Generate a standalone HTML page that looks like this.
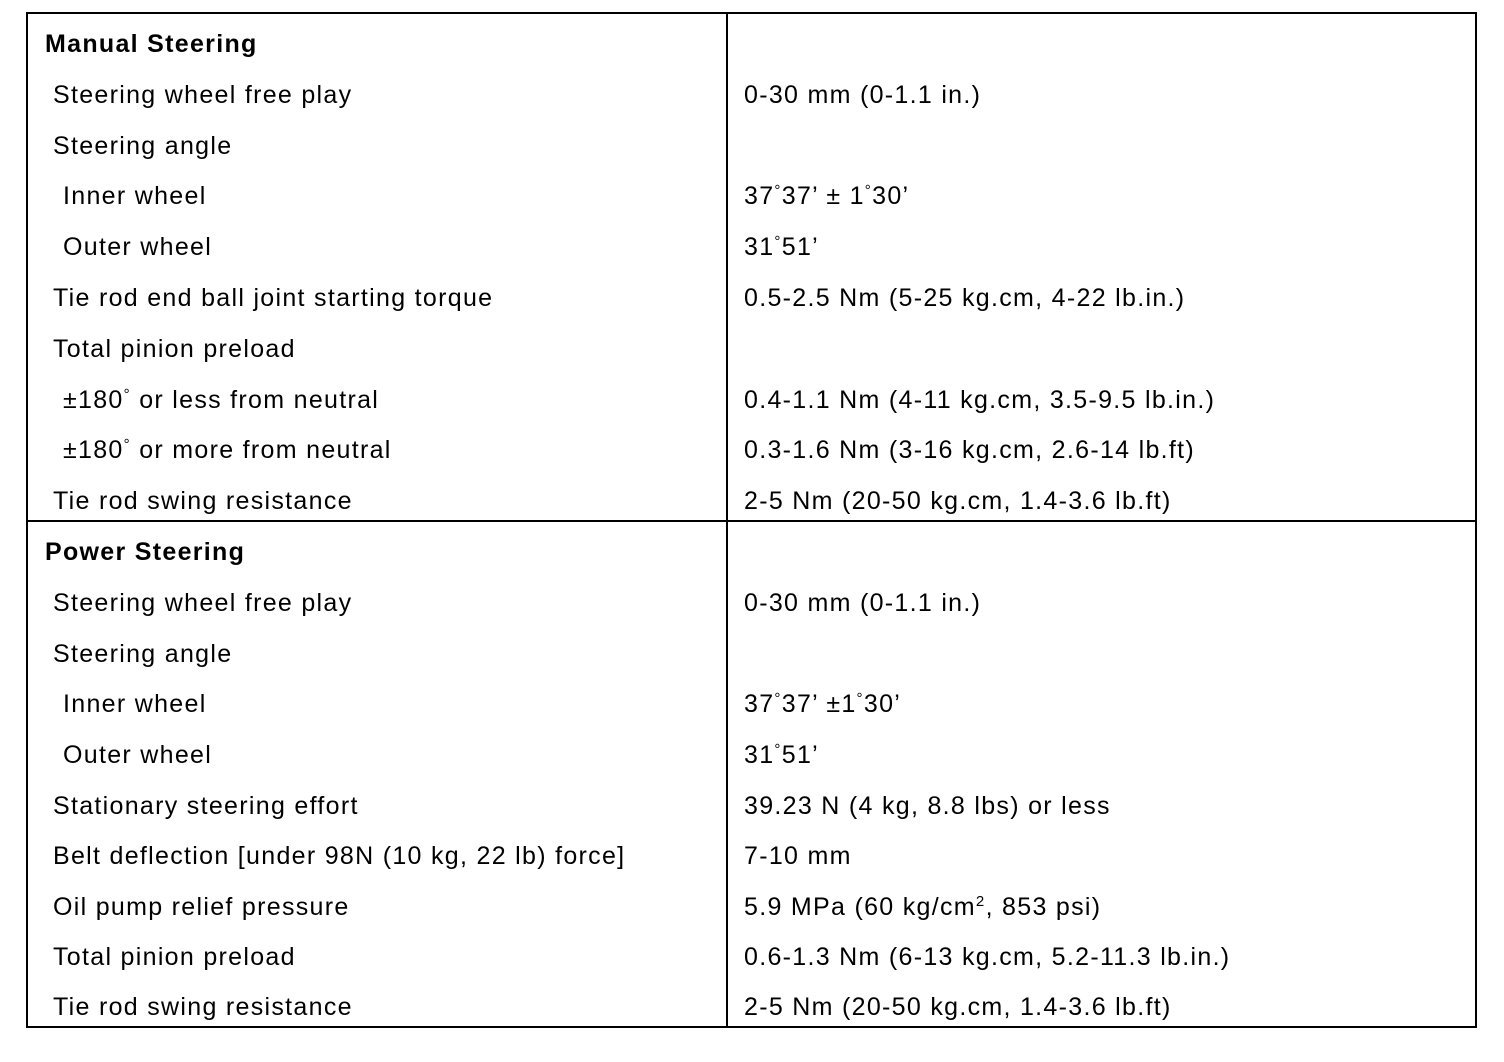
<!DOCTYPE html>
<html><head><meta charset="utf-8"><style>
body{margin:0;width:1504px;height:1062px;background:#fff;position:relative;font-family:"Liberation Sans",Arial,sans-serif;color:#000;overflow:hidden}
.b{position:absolute;background:#000}
.t{position:absolute;font-size:25px;line-height:30px;white-space:nowrap;letter-spacing:1.3px;margin-top:2px}
.h{font-weight:bold}
sup{font-size:15px;line-height:0;vertical-align:9px}
</style></head><body>
<div class="b" style="left:26px;top:12px;width:1451px;height:2px"></div>
<div class="b" style="left:26px;top:1026px;width:1451px;height:2px"></div>
<div class="b" style="left:26px;top:12px;width:2px;height:1016px"></div>
<div class="b" style="left:1475px;top:12px;width:2px;height:1016px"></div>
<div class="b" style="left:726px;top:12px;width:2px;height:1016px"></div>
<div class="b" style="left:26px;top:520px;width:1451px;height:2px"></div>

<div class="t h" style="left:45px;top:27px">Manual Steering</div>
<div class="t" style="left:53px;top:78px">Steering wheel free play</div><div class="t" style="left:744px;top:78px">0-30 mm (0-1.1 in.)</div>
<div class="t" style="left:53px;top:129px">Steering angle</div>
<div class="t" style="left:63px;top:179px">Inner wheel</div><div class="t" style="left:744px;top:179px">37<sup>°</sup>37’ ± 1<sup>°</sup>30’</div>
<div class="t" style="left:63px;top:230px">Outer wheel</div><div class="t" style="left:744px;top:230px">31<sup>°</sup>51’</div>
<div class="t" style="left:53px;top:281px">Tie rod end ball joint starting torque</div><div class="t" style="left:744px;top:281px">0.5-2.5 Nm (5-25 kg.cm, 4-22 lb.in.)</div>
<div class="t" style="left:53px;top:332px">Total pinion preload</div>
<div class="t" style="left:63px;top:383px">±180<sup>°</sup> or less from neutral</div><div class="t" style="left:744px;top:383px">0.4-1.1 Nm (4-11 kg.cm, 3.5-9.5 lb.in.)</div>
<div class="t" style="left:63px;top:433px">±180<sup>°</sup> or more from neutral</div><div class="t" style="left:744px;top:433px">0.3-1.6 Nm (3-16 kg.cm, 2.6-14 lb.ft)</div>
<div class="t" style="left:53px;top:484px">Tie rod swing resistance</div><div class="t" style="left:744px;top:484px">2-5 Nm (20-50 kg.cm, 1.4-3.6 lb.ft)</div>

<div class="t h" style="left:45px;top:535px">Power Steering</div>
<div class="t" style="left:53px;top:586px">Steering wheel free play</div><div class="t" style="left:744px;top:586px">0-30 mm (0-1.1 in.)</div>
<div class="t" style="left:53px;top:637px">Steering angle</div>
<div class="t" style="left:63px;top:687px">Inner wheel</div><div class="t" style="left:744px;top:687px">37<sup>°</sup>37’ ±1<sup>°</sup>30’</div>
<div class="t" style="left:63px;top:738px">Outer wheel</div><div class="t" style="left:744px;top:738px">31<sup>°</sup>51’</div>
<div class="t" style="left:53px;top:789px">Stationary steering effort</div><div class="t" style="left:744px;top:789px">39.23 N (4 kg, 8.8 lbs) or less</div>
<div class="t" style="left:53px;top:839px">Belt deflection [under 98N (10 kg, 22 lb) force]</div><div class="t" style="left:744px;top:839px">7-10 mm</div>
<div class="t" style="left:53px;top:890px">Oil pump relief pressure</div><div class="t" style="left:744px;top:890px">5.9 MPa (60 kg/cm<sup>2</sup>, 853 psi)</div>
<div class="t" style="left:53px;top:940px">Total pinion preload</div><div class="t" style="left:744px;top:940px">0.6-1.3 Nm (6-13 kg.cm, 5.2-11.3 lb.in.)</div>
<div class="t" style="left:53px;top:990px">Tie rod swing resistance</div><div class="t" style="left:744px;top:990px">2-5 Nm (20-50 kg.cm, 1.4-3.6 lb.ft)</div>
</body></html>
